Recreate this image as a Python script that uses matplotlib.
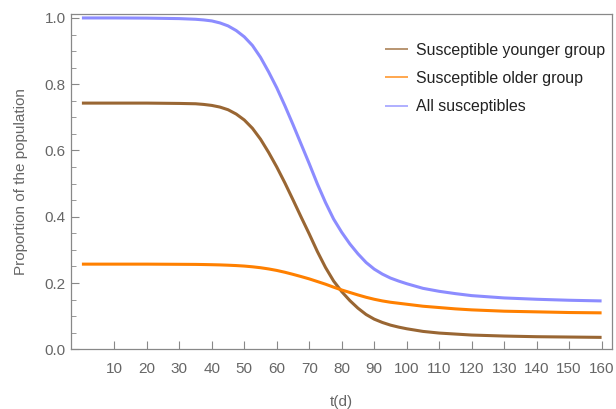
import matplotlib.pyplot as plt

plt.rcParams['font.family'] = ['Liberation Sans', 'DejaVu Sans']

# time points (days)
t = [0, 10, 20, 30, 35, 37.5, 40, 42.5, 45, 47.5, 50, 52.5, 55, 57.5, 60,
     62.5, 65, 67.5, 70, 72.5, 75, 77.5, 80, 82.5, 85, 87.5, 90, 92.5, 95,
     97.5, 100, 105, 110, 115, 120, 130, 140, 150, 160]

# susceptible younger group
s_young = [0.743, 0.743, 0.743, 0.742, 0.741, 0.739, 0.736, 0.731, 0.723,
           0.710, 0.692, 0.667, 0.634, 0.594, 0.550, 0.502, 0.451, 0.399,
           0.348, 0.295, 0.247, 0.206, 0.174, 0.147, 0.124, 0.105, 0.091,
           0.081, 0.073, 0.067, 0.062, 0.054, 0.049, 0.046, 0.043, 0.040,
           0.038, 0.037, 0.036]

# susceptible older group
s_old = [0.257, 0.257, 0.257, 0.2565, 0.2562, 0.2558, 0.2553, 0.2547,
         0.2538, 0.2527, 0.2512, 0.249, 0.2462, 0.2425, 0.238, 0.2325,
         0.2262, 0.2195, 0.2125, 0.2045, 0.1965, 0.1875, 0.179, 0.1715,
         0.164, 0.157, 0.151, 0.146, 0.142, 0.139, 0.136, 0.130, 0.126,
         0.122, 0.119, 0.115, 0.113, 0.111, 0.110]

# all susceptibles
s_all = [1.000, 1.000, 0.9995, 0.998, 0.996, 0.994, 0.991, 0.985, 0.976,
         0.962, 0.943, 0.917, 0.881, 0.837, 0.789, 0.735, 0.678, 0.619,
         0.560, 0.499, 0.443, 0.393, 0.353, 0.318, 0.288, 0.262, 0.242,
         0.227, 0.215, 0.206, 0.198, 0.184, 0.175, 0.168, 0.162, 0.155,
         0.151, 0.148, 0.146]

labels = ['Susceptible younger group', 'Susceptible older group',
          'All susceptibles']
colors = ['#996633', '#ff8000', '#8c8cff']

fig = plt.figure(figsize=(6.16, 4.09), dpi=100)
ax = fig.add_axes([70.7 / 616, 1 - 349.3 / 409, (612.3 - 70.7) / 616,
                   (349.3 - 14.3) / 409])

for y, c, lab in zip([s_young, s_old, s_all], colors, labels):
    ax.plot(t, y, color=c, lw=2.2, label=lab, solid_capstyle='butt',
            solid_joinstyle='round')

ax.set_xlim(-3.45, 163.3)
ax.set_ylim(0, 1.011)
ax.set_xticks(range(10, 161, 10))
ax.set_yticks([0, 0.2, 0.4, 0.6, 0.8, 1.0])
ax.set_yticks([i * 0.05 for i in range(21)], minor=True)
ax.set_yticklabels(['0.0', '0.2', '0.4', '0.6', '0.8', '1.0'])

grey = '#888888'
for s in ax.spines.values():
    s.set_color(grey)
    s.set_linewidth(0.9)
ax.tick_params(axis='both', which='both', direction='in', color=grey,
               labelcolor='#666666', labelsize=11, top=False, right=False)
ax.tick_params(axis='x', which='major', length=6, pad=9.4)
ax.tick_params(axis='y', which='major', length=6, pad=3.6)
ax.tick_params(axis='y', which='minor', length=3.5)

ax.set_xlabel('t(d)', fontsize=11, color='#666666', labelpad=13.5)
ax.set_ylabel('Proportion of the population', fontsize=11,
              color='#666666', labelpad=12)

leg = ax.legend(loc='upper left', bbox_to_anchor=(385 / 616, 1 - 42.5 / 409),
                bbox_transform=fig.transFigure, frameon=False,
                fontsize=11.4, handlelength=1.45, handletextpad=0.5,
                labelspacing=0.84, borderpad=0, borderaxespad=0)
for ln in leg.get_lines():
    ln.set_linewidth(1.3)
    ln.set_alpha(0.75)
for txt in leg.get_texts():
    txt.set_color('#222222')

fig.savefig('out.png', dpi=100)
